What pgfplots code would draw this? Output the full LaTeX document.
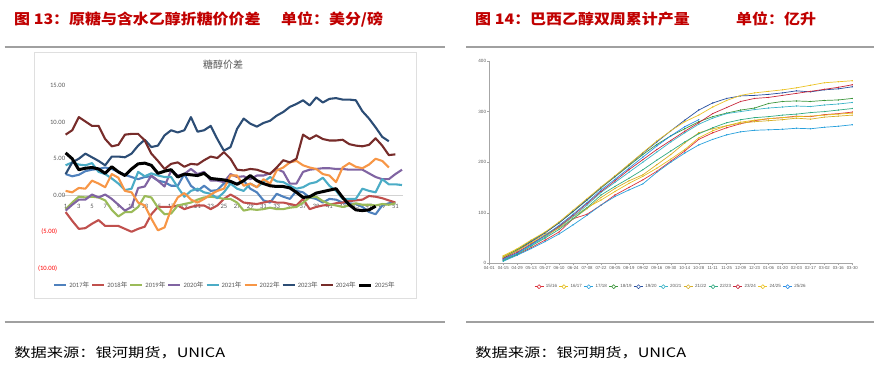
\documentclass[border=0pt]{standalone}
\usepackage{fontspec}
\usepackage{pgfplots}
\usepackage{pgfplotstable}
\pgfplotsset{compat=1.18}
\setmainfont{Carlito}
\newfontfamily\cjk{Noto Sans CJK SC}
\newfontfamily\lsans{Liberation Sans}
\definecolor{hdr}{RGB}{192,0,0}
\definecolor{sep}{RGB}{160,160,160}
\definecolor{lab}{RGB}{89,89,89}
\definecolor{c17}{HTML}{4F81BD}
\definecolor{c18}{HTML}{C0504D}
\definecolor{c19}{HTML}{9BBB59}
\definecolor{c20}{HTML}{8064A2}
\definecolor{c21}{HTML}{4BACC6}
\definecolor{c22}{HTML}{F79646}
\definecolor{c23}{HTML}{2C4D75}
\definecolor{c24}{HTML}{772C2A}
\definecolor{r1}{RGB}{220,50,60}
\definecolor{r2}{RGB}{230,190,30}
\definecolor{r3}{RGB}{40,160,220}
\definecolor{r4}{RGB}{60,150,60}
\definecolor{r5}{RGB}{40,80,160}
\definecolor{r6}{RGB}{60,180,200}
\definecolor{r7}{RGB}{215,175,40}
\definecolor{r8}{RGB}{50,170,130}
\definecolor{r9}{RGB}{200,40,60}
\definecolor{r10}{RGB}{235,195,40}
\definecolor{r11}{RGB}{40,140,230}

\pgfplotstableread{
w a17 a18 a19 a20 a21 a22 a23 a24 a25
1 2.9 -2.3 -1.9 -2.1 4.1 0.6 2.9 8.3 5.8
2 2.6 -3.5 -1.0 -1.3 4.5 0.4 4.5 8.9 5.0
3 2.8 -4.6 -0.2 -0.6 4.2 1.0 5.0 10.7 3.5
4 3.3 -4.5 -0.3 -0.6 4.1 0.9 5.7 10.1 3.7
5 3.5 -3.9 -0.2 0.1 4.4 2.0 5.2 9.5 3.8
6 3.6 -3.4 -0.3 -0.3 3.2 1.6 4.7 9.5 3.6
7 3.8 -4.2 -0.7 0.1 2.9 1.1 4.1 7.7 3.0
8 3.6 -4.2 -2.0 -0.5 2.3 2.9 5.3 6.7 3.9
9 3.2 -4.2 -2.9 -1.3 1.6 2.4 5.3 6.9 3.2
10 2.8 -4.6 -2.3 -2.1 0.7 0.6 5.2 8.3 2.7
11 2.5 -5.0 -2.3 -1.6 0.9 0.4 5.7 8.4 3.6
12 2.2 -4.6 -1.6 1.0 3.2 -1.0 6.8 8.4 4.3
13 2.5 -4.3 -0.1 1.2 2.6 -1.4 7.6 7.5 4.4
14 2.6 -2.6 -0.3 2.7 3.0 -3.2 6.6 5.7 4.1
15 2.0 -1.6 -1.7 2.0 2.7 -4.8 6.8 4.7 3.0
16 1.8 -1.6 -2.6 1.2 2.5 -4.4 8.2 3.6 3.3
17 1.3 -1.6 -2.5 3.4 2.5 -1.9 8.9 4.3 3.5
18 1.3 -1.4 -1.4 2.7 1.1 -0.3 8.6 4.5 2.5
19 2.9 -1.9 -1.2 2.9 -0.2 0.3 8.9 3.9 2.9
20 1.3 -1.6 -1.0 3.6 0.6 -0.6 10.7 4.3 2.8
21 0.6 -1.4 -0.6 2.9 0.9 -1.0 8.7 4.2 2.7
22 1.3 -1.4 -0.3 3.2 0.4 -0.5 8.9 4.8 3.0
23 0.6 -1.9 -0.2 2.0 0.2 0.1 9.5 5.3 2.3
24 0.7 -1.4 -0.3 2.0 -0.4 0.6 7.7 5.1 2.2
25 1.6 -0.5 -0.5 1.8 0.4 0.9 6.1 5.9 2.1
26 1.8 0.1 -0.5 2.9 1.6 2.7 6.6 5.0 1.9
27 1.6 -0.4 -1.0 2.5 0.9 2.7 9.1 3.5 1.5
28 2.0 -1.0 -2.1 2.6 0.6 1.3 10.5 3.4 2.0
29 0.9 -1.1 -1.9 2.2 1.6 1.6 9.8 3.6 2.7
30 0.4 -1.2 -2.0 2.7 1.1 1.1 9.4 3.5 2.0
31 -0.7 -1.0 -1.9 2.7 1.8 2.2 9.9 3.2 1.6
32 -1.0 -0.8 -1.7 3.0 2.5 1.6 10.2 2.9 1.3
33 0.2 -1.0 -1.9 3.6 1.9 3.4 10.9 3.8 1.2
34 -0.2 -1.0 -1.9 3.2 1.8 3.8 11.4 4.8 1.2
35 -0.5 -1.2 -1.7 1.6 1.3 4.5 12.1 4.5 1.0
36 0.6 -1.4 -1.6 1.6 0.9 4.7 12.5 5.0 0.4
37 0.4 -0.5 -1.0 3.2 1.1 4.1 13.0 8.3 -0.3
38 -0.3 -1.9 -0.3 3.5 1.6 3.8 12.3 7.7 -0.2
39 -0.5 -1.6 -0.2 3.6 1.8 3.6 13.4 8.2 0.3
40 -1.0 -1.4 -0.8 3.7 2.4 2.9 12.7 7.7 0.5
41 -0.5 -1.3 -1.2 3.7 1.3 2.7 13.2 7.5 0.7
42 -0.6 -1.1 -1.4 3.6 0.6 1.8 13.3 7.5 0.9
43 -1.0 -1.0 -1.6 3.6 -0.5 3.8 13.1 7.6 -0.3
44 -1.1 -0.8 -1.4 3.5 -0.5 4.4 13.1 7.0 -1.3
45 -1.2 -0.7 -1.1 3.5 -0.5 3.9 13.0 6.8 -2.0
46 -1.6 -0.6 -1.3 3.5 0.9 3.7 11.5 6.7 -2.1
47 -2.3 -0.1 -1.3 3.0 0.6 4.2 10.5 6.9 -2.0
48 -2.6 -0.2 -1.4 2.5 0.4 5.0 9.3 7.8 -1.5
49 -1.4 -0.4 -1.2 2.2 2.2 4.7 8.0 6.8 nan
50 -1.1 -0.7 -1.3 2.2 1.5 3.8 7.4 5.5 nan
51 -1.1 -1.0 -1.1 2.9 1.5 nan nan 5.6 nan
52 nan nan nan 3.5 1.4 nan nan nan nan
}\leftdata

\pgfplotstableread{
i s1516 s1617 s1718 s1819 s1920 s2021 s2122 s2223 s2324 s2425 s2526
1 7 14 4 12 10 6 12 5 9 15 8
2 17 27 16 27 25 20 25 18 22 29 20
3 31 42 29 45 43 36 40 34 38 46 37
4 46 57 43 61 60 52 54 50 55 62 55
5 62 73 58 80 80 71 70 67 73 82 75
6 88 92 76 102 103 92 88 88 95 105 97
7 97 110 95 125 126 115 108 110 118 128 120
8 115 125 115 149 150 140 130 135 142 151 145
9 135 142 132 171 172 160 148 152 163 173 166
10 150 158 145 193 195 180 163 168 185 196 188
11 165 172 157 215 218 200 175 185 205 219 210
12 182 188 180 235 240 220 195 204 225 242 232
13 202 206 200 252 262 240 215 222 243 262 252
14 222 225 218 266 283 258 238 240 261 280 270
15 245 248 234 280 303 275 258 256 278 293 284
16 258 262 245 290 317 287 266 268 296 309 nan
17 268 272 254 297 326 296 272 278 308 322 nan
18 276 279 260 303 331 300 277 284 320 332 nan
19 282 283 263 307 332 304 280 288 326 337 nan
20 286 286 264 316 334 307 282 290 328 340 nan
21 288 288 265 320 337 309 284 293 332 343 nan
22 291 290 267 321 341 311 287 295 336 347 nan
23 290 291 266 320 339 310 285 298 340 352 nan
24 294 293 269 322 343 313 289 300 344 357 nan
25 296 295 271 323 345 315 291 303 348 359 nan
26 299 297 274 326 349 318 293 306 353 361 nan
}\rightdata

\begin{document}
\begin{tikzpicture}[x=1pt,y=1pt]
\path[use as bounding box] (0pt,0pt) rectangle (883pt,373pt);
% headers
\node[anchor=west, inner sep=0pt, xscale=1.1, transform shape, text=hdr, font=\cjk\bfseries\fontsize{14.5}{16}\selectfont] at (14pt,354pt) {图 13：原糖与含水乙醇折糖价价差};
\node[anchor=west, inner sep=0pt, xscale=1.1, transform shape, text=hdr, font=\cjk\bfseries\fontsize{14.5}{16}\selectfont] at (281pt,354pt) {单位：美分/磅};
\node[anchor=west, inner sep=0pt, xscale=1.1, transform shape, text=hdr, font=\cjk\bfseries\fontsize{14.5}{16}\selectfont] at (475pt,354pt) {图 14：巴西乙醇双周累计产量};
\node[anchor=west, inner sep=0pt, xscale=1.1, transform shape, text=hdr, font=\cjk\bfseries\fontsize{14.5}{16}\selectfont] at (736pt,354pt) {单位：亿升};
% separators
\draw[sep, line width=2pt] (4.5pt,325.5pt) -- (444.5pt,325.5pt);
\draw[sep, line width=2pt] (466pt,325.5pt) -- (874pt,325.5pt);
\draw[sep, line width=2pt] (4.5pt,50.7pt) -- (444.5pt,50.7pt);
\draw[sep, line width=2pt] (466pt,50.7pt) -- (874pt,50.7pt);
% footers
\node[anchor=west, inner sep=0pt, xscale=1.25, transform shape, font=\cjk\fontsize{13}{15}\selectfont] at (14pt,20.3pt) {数据来源：银河期货，UNICA};
\node[anchor=west, inner sep=0pt, xscale=1.25, transform shape, font=\cjk\fontsize{13}{15}\selectfont] at (475pt,20.3pt) {数据来源：银河期货，UNICA};
% left frame and title
\draw[gray!25, line width=0.8pt] (34pt,75pt) rectangle (416pt,321pt);
\node[text=lab, font=\cjk\fontsize{10}{12}\selectfont] at (223pt,308pt) {糖醇价差};

\begin{axis}[at={(63.3pt,104.7pt)}, anchor=south west, scale only axis,
  width=340pt, height=182.6pt,
  xmin=0.65, xmax=52.2, ymin=-10, ymax=15,
  axis x line=middle, axis y line*=left,
  x axis line style={-, draw=gray!35, line width=0.8pt},
  y axis line style={draw=none},
  major tick length=0pt,
  xtick={1,3,...,51},
  ytick={-10,-5,0,5,10,15},
  yticklabels={{\textcolor{red}{(10.00)}\hspace*{8pt}},{\textcolor{red}{(5.00)}\hspace*{8pt}},0.00,5.00,10.00,15.00},
  /pgf/number format/assume math mode=true,
  xticklabel style={font=\fontsize{6.6}{8}\selectfont, text=lab, inner sep=0pt, anchor=north, yshift=-8.5pt},
  yticklabel style={font=\fontsize{6.6}{8}\selectfont, text=lab, inner sep=0pt, anchor=east, xshift=2pt},
  legend columns=9,
  legend style={at={(0.4756,-0.0915)}, anchor=center, draw=none, fill=none,
    font=\fontsize{6.6}{8}\selectfont, text=lab, inner sep=0pt,
    /tikz/every even column/.append style={column sep=0pt}},
  legend image code/.code={\draw[#1] (0pt,0pt) -- (12pt,0pt);},
  every axis plot/.append style={line join=round},
]
\addplot[c17, line width=2.1pt] table[x=w,y=a17] {\leftdata};
\addlegendentry{2017{\cjk 年}}
\addplot[c18, line width=2.1pt] table[x=w,y=a18] {\leftdata};
\addlegendentry{2018{\cjk 年}}
\addplot[c19, line width=2.1pt] table[x=w,y=a19] {\leftdata};
\addlegendentry{2019{\cjk 年}}
\addplot[c20, line width=2.1pt] table[x=w,y=a20] {\leftdata};
\addlegendentry{2020{\cjk 年}}
\addplot[c21, line width=2.1pt] table[x=w,y=a21] {\leftdata};
\addlegendentry{2021{\cjk 年}}
\addplot[c22, line width=2.1pt] table[x=w,y=a22] {\leftdata};
\addlegendentry{2022{\cjk 年}}
\addplot[c23, line width=2.1pt] table[x=w,y=a23] {\leftdata};
\addlegendentry{2023{\cjk 年}}
\addplot[c24, line width=2.1pt] table[x=w,y=a24] {\leftdata};
\addlegendentry{2024{\cjk 年}}
\addplot[black, line width=3pt] table[x=w,y=a25] {\leftdata};
\addlegendentry{2025{\cjk 年}}
\end{axis}

\begin{axis}[at={(489.3pt,109.7pt)}, anchor=south west, scale only axis,
  width=363pt, height=202.3pt,
  xmin=0, xmax=26, ymin=0, ymax=400,
  axis x line*=bottom, axis y line*=left,
  axis line style={-, draw=gray!70, line width=0.5pt},
  tick align=outside, major tick length=2pt,
  tick style={gray!70, line width=0.4pt},
  xtick={0,...,26},
  xticklabels={04-01,04-15,04-29,05-13,05-27,06-10,06-24,07-08,07-22,08-05,08-19,09-02,09-16,09-30,10-14,10-28,11-11,11-25,12-09,12-23,01-06,01-20,02-03,02-17,03-02,03-16,03-30},
  ytick={0,100,200,300,400},
  /pgf/number format/assume math mode=true,
  xticklabel style={font=\lsans\fontsize{4.3}{5}\selectfont, text=lab, inner sep=1pt},
  yticklabel style={font=\lsans\fontsize{4.6}{5}\selectfont, text=lab, inner sep=1pt},
  legend columns=11,
  legend style={at={(0.5005,-0.1157)}, anchor=center, draw=none, fill=none,
    font=\lsans\fontsize{4.5}{6}\selectfont, text=lab, inner sep=0pt,
    /tikz/every even column/.append style={column sep=0pt}},
  legend image code/.code={\draw[#1, line width=0.6pt] (0pt,0pt) -- (9pt,0pt);
    \draw[#1, line width=0.6pt, fill=white] (4.5pt,0pt) +(-2pt,0pt) -- +(0pt,2pt) -- +(2pt,0pt) -- +(0pt,-2pt) -- cycle;},
  every axis plot/.append style={line width=0.7pt, mark=*, mark size=0.35pt, line join=round},
]
\addplot[r1] table[x=i,y=s1516] {\rightdata};
\addlegendentry{15/16}
\addplot[r2] table[x=i,y=s1617] {\rightdata};
\addlegendentry{16/17}
\addplot[r3] table[x=i,y=s1718] {\rightdata};
\addlegendentry{17/18}
\addplot[r4] table[x=i,y=s1819] {\rightdata};
\addlegendentry{18/19}
\addplot[r5] table[x=i,y=s1920] {\rightdata};
\addlegendentry{19/20}
\addplot[r6] table[x=i,y=s2021] {\rightdata};
\addlegendentry{20/21}
\addplot[r7] table[x=i,y=s2122] {\rightdata};
\addlegendentry{21/22}
\addplot[r8] table[x=i,y=s2223] {\rightdata};
\addlegendentry{22/23}
\addplot[r9] table[x=i,y=s2324] {\rightdata};
\addlegendentry{23/24}
\addplot[r10] table[x=i,y=s2425] {\rightdata};
\addlegendentry{24/25}
\addplot[r11] table[x=i,y=s2526] {\rightdata};
\addlegendentry{25/26}
\end{axis}
\end{tikzpicture}
\end{document}
